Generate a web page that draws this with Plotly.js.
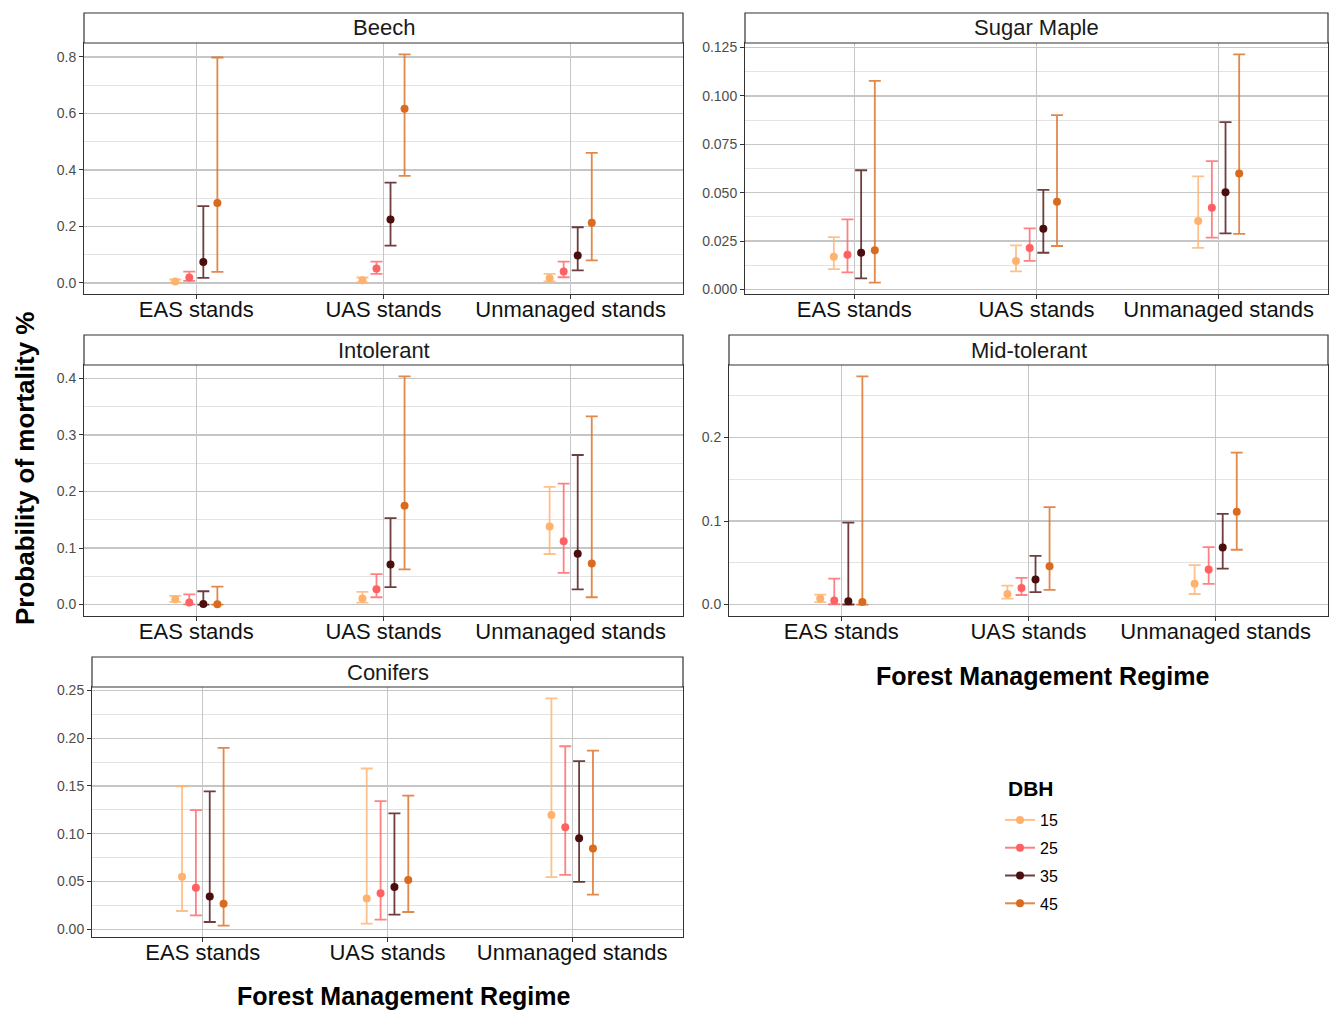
<!DOCTYPE html>
<html>
<head>
<meta charset="utf-8">
<script src="https://cdn.plot.ly/plotly-3.0.1.min.js"></script>
<style>
  html, body { margin: 0; padding: 0; background: #ffffff; }
  #chart { width: 1331px; height: 1013px; }
</style>
</head>
<body>
<div id="chart"></div>
<script>
// Forest management regimes (x categories) and tree diameter classes (series)
const regimes = ['EAS stands', 'UAS stands', 'Unmanaged stands'];
const dbhClasses = ['15', '25', '35', '45'];
const dbhColors = ['#FFB26E', '#FF6163', '#4A0E0E', '#DA6A1E'];
const dbhBarColors = ['rgba(255,178,110,0.8)', 'rgba(255,97,99,0.8)', 'rgba(74,14,14,0.8)', 'rgba(218,106,30,0.8)'];

// Each array: one row per DBH class (15, 25, 35, 45), one column per regime
const beechEst  = [[0.005, 0.009, 0.016], [0.019, 0.051, 0.040], [0.074, 0.224, 0.097], [0.283, 0.617, 0.213]];
const beechLow  = [[0.001, 0.002, 0.005], [0.007, 0.032, 0.020], [0.018, 0.132, 0.044], [0.039, 0.379, 0.080]];
const beechHigh = [[0.012, 0.019, 0.032], [0.040, 0.075, 0.075], [0.272, 0.355, 0.197], [0.798, 0.809, 0.460]];

const mapleEst  = [[0.0170, 0.0148, 0.0354], [0.0180, 0.0215, 0.0422], [0.0190, 0.0314, 0.0503], [0.0203, 0.0453, 0.0599]];
const mapleLow  = [[0.0106, 0.0094, 0.0215], [0.0089, 0.0148, 0.0268], [0.0058, 0.0190, 0.0290], [0.0036, 0.0225, 0.0287]];
const mapleHigh = [[0.0271, 0.0228, 0.0584], [0.0362, 0.0316, 0.0663], [0.0616, 0.0515, 0.0864], [0.1077, 0.0901, 0.1214]];

const intolEst  = [[0.0094, 0.0106, 0.138], [0.0035, 0.027, 0.112], [0.0012, 0.0707, 0.090], [0.0005, 0.175, 0.0725]];
const intolLow  = [[0.0047, 0.0035, 0.0895], [0.0003, 0.013, 0.056], [0.0001, 0.031, 0.027], [0.0000, 0.0624, 0.013]];
const intolHigh = [[0.0153, 0.0224, 0.208], [0.018, 0.054, 0.214], [0.0236, 0.153, 0.2645], [0.0318, 0.4035, 0.333]];

const midEst  = [[0.0072, 0.0127, 0.025], [0.005, 0.0199, 0.042], [0.004, 0.030, 0.0684], [0.003, 0.046, 0.111]];
const midLow  = [[0.003, 0.0072, 0.0127], [0.0004, 0.0115, 0.0247], [0.0001, 0.015, 0.043], [0.0000, 0.0175, 0.0656]];
const midHigh = [[0.0119, 0.0227, 0.0473], [0.031, 0.032, 0.0688], [0.098, 0.0584, 0.1085], [0.273, 0.1165, 0.1817]];

const conEst  = [[0.055, 0.0323, 0.1196], [0.0435, 0.0376, 0.1067], [0.0344, 0.0442, 0.0953], [0.0268, 0.0515, 0.0845]];
const conLow  = [[0.0191, 0.0059, 0.0546], [0.0146, 0.0101, 0.057], [0.0076, 0.0153, 0.0497], [0.0038, 0.0181, 0.0362]];
const conHigh = [[0.1495, 0.1683, 0.2417], [0.1248, 0.1342, 0.1916], [0.1443, 0.1213, 0.176], [0.1898, 0.1398, 0.187]];

const panelTitles = ['Beech', 'Sugar Maple', 'Intolerant', 'Mid-tolerant', 'Conifers'];
const xTitle = 'Forest Management Regime';
const yTitle = 'Probability of mortality %';
const legendTitle = 'DBH';

// ---- page geometry (pixels) ----
const W = 1331, H = 1013;
const STRIP = 30;
const FONT = '"Liberation Sans", Arial, Helvetica, sans-serif';
const panels = [
  { est: beechEst, low: beechLow, high: beechHigh, box: { l: 84,  r: 683,  t: 43,  b: 294 }, dtick: 0.2,   fmt: '.1f' },
  { est: mapleEst, low: mapleLow, high: mapleHigh, box: { l: 745, r: 1328, t: 43,  b: 294 }, dtick: 0.025, fmt: '.3f' },
  { est: intolEst, low: intolLow, high: intolHigh, box: { l: 84,  r: 683,  t: 365, b: 616 }, dtick: 0.1,   fmt: '.1f' },
  { est: midEst,   low: midLow,   high: midHigh,   box: { l: 729, r: 1328, t: 365, b: 616 }, dtick: 0.1,   fmt: '.1f' },
  { est: conEst,   low: conLow,   high: conHigh,   box: { l: 92,  r: 683,  t: 687, b: 937 }, dtick: 0.05,  fmt: '.2f' }
];
const dodge = [-0.1125, -0.0375, 0.0375, 0.1125];

const px = x => x / W;
const py = y => 1 - y / H;

const traces = [];
const layout = {
  width: W, height: H,
  margin: { l: 0, r: 0, t: 0, b: 0 },
  paper_bgcolor: '#ffffff',
  plot_bgcolor: '#ffffff',
  font: { family: FONT, color: '#000000' },
  showlegend: true,
  shapes: [],
  annotations: []
};

panels.forEach((p, i) => {
  const sfx = i === 0 ? '' : String(i + 1);
  const xa = 'x' + sfx, ya = 'y' + sfx;

  // y range: data extent expanded by 5% on both sides
  const allLow = p.low.flat(), allHigh = p.high.flat();
  const lo = Math.min(...allLow), hi = Math.max(...allHigh);
  const pad = (hi - lo) * 0.05;

  dbhClasses.forEach((d, j) => {
    traces.push({
      type: 'scatter',
      mode: 'markers',
      name: d,
      showlegend: false,
      xaxis: xa, yaxis: ya,
      x: regimes.map((_, k) => k + dodge[j]),
      y: p.est[j],
      marker: { color: dbhColors[j], size: 8 },
      error_y: {
        type: 'data', symmetric: false,
        array: p.high[j].map((v, k) => v - p.est[j][k]),
        arrayminus: p.low[j].map((v, k) => p.est[j][k] - v),
        color: dbhBarColors[j], thickness: 1.8, width: 6
      },
      hoverinfo: 'x+y'
    });
  });

  layout['xaxis' + sfx] = {
    domain: [px(p.box.l), px(p.box.r)],
    anchor: ya,
    range: [-0.6, 2.6],
    tickvals: [0, 1, 2],
    ticktext: regimes,
    showgrid: true, gridcolor: '#C6C6C6', gridwidth: 1.3,
    zeroline: false,
    showline: true, mirror: true, linecolor: '#333333', linewidth: 1,
    ticks: 'outside', ticklen: 4, tickcolor: '#333333', tickwidth: 1,
    ticklabelstandoff: -8,
    tickfont: { family: FONT, size: 22, color: '#111111' },
    fixedrange: true
  };
  layout['yaxis' + sfx] = {
    domain: [py(p.box.b), py(p.box.t)],
    anchor: xa,
    range: [lo - pad, hi + pad],
    dtick: p.dtick, tick0: 0,
    tickformat: p.fmt,
    showgrid: true, gridcolor: '#C6C6C6', gridwidth: 1.3,
    minor: { dtick: p.dtick / 2, tick0: 0, showgrid: true, gridcolor: '#E3E3E3', gridwidth: 1 },
    zeroline: false,
    showline: true, mirror: true, linecolor: '#333333', linewidth: 1,
    ticks: 'outside', ticklen: 4, tickcolor: '#333333', tickwidth: 1,
    tickfont: { family: FONT, size: 14, color: '#4D4D4D' },
    fixedrange: true
  };

  // facet strip above each panel
  layout.shapes.push({
    type: 'rect', xref: 'paper', yref: 'paper',
    x0: px(p.box.l), x1: px(p.box.r), y0: py(p.box.t), y1: py(p.box.t - STRIP),
    fillcolor: '#ffffff', line: { color: '#333333', width: 1.2 }
  });
  layout.annotations.push({
    xref: 'paper', yref: 'paper',
    x: px((p.box.l + p.box.r) / 2), y: py(p.box.t - STRIP / 2),
    xanchor: 'center', yanchor: 'middle',
    text: panelTitles[i], showarrow: false,
    font: { family: FONT, size: 22, color: '#1A1A1A' }
  });
});

// axis titles
layout.annotations.push({
  xref: 'paper', yref: 'paper', x: px(404), y: py(996),
  xanchor: 'center', yanchor: 'middle', showarrow: false, borderpad: 0,
  text: '<b>' + xTitle + '</b>', font: { family: FONT, size: 25, color: '#000000' }
});
layout.annotations.push({
  xref: 'paper', yref: 'paper', x: px(1043), y: py(676),
  xanchor: 'center', yanchor: 'middle', showarrow: false,
  text: '<b>' + xTitle + '</b>', font: { family: FONT, size: 25, color: '#000000' }
});
layout.annotations.push({
  xref: 'paper', yref: 'paper', x: px(25), y: py(468),
  xanchor: 'center', yanchor: 'middle', showarrow: false, textangle: -90,
  text: '<b>' + yTitle + '</b>', font: { family: FONT, size: 26, color: '#000000' }
});

// legend heading
layout.annotations.push({
  xref: 'paper', yref: 'paper', x: px(1006), y: py(788),
  xanchor: 'left', yanchor: 'middle', showarrow: false,
  text: '<b>' + legendTitle + '</b>', font: { family: FONT, size: 21, color: '#000000' }
});

// legend keys (line + point per DBH class)
dbhClasses.forEach((d, j) => {
  traces.push({
    type: 'scatter', mode: 'lines+markers', name: d,
    legendgroup: 'g' + d,
    x: [null], y: [null], xaxis: 'x', yaxis: 'y',
    line: { color: dbhBarColors[j], width: 2 },
    marker: { color: dbhColors[j], size: 8 },
    hoverinfo: 'skip'
  });
});

layout.legend = {
  x: px(1000), y: py(803), xanchor: 'left', yanchor: 'top',
  bgcolor: 'rgba(0,0,0,0)',
  font: { family: FONT, size: 16, color: '#000000' },
  traceorder: 'grouped', tracegroupgap: 4
};

Plotly.newPlot('chart', traces, layout, { displayModeBar: false, staticPlot: true });
</script>
</body>
</html>
